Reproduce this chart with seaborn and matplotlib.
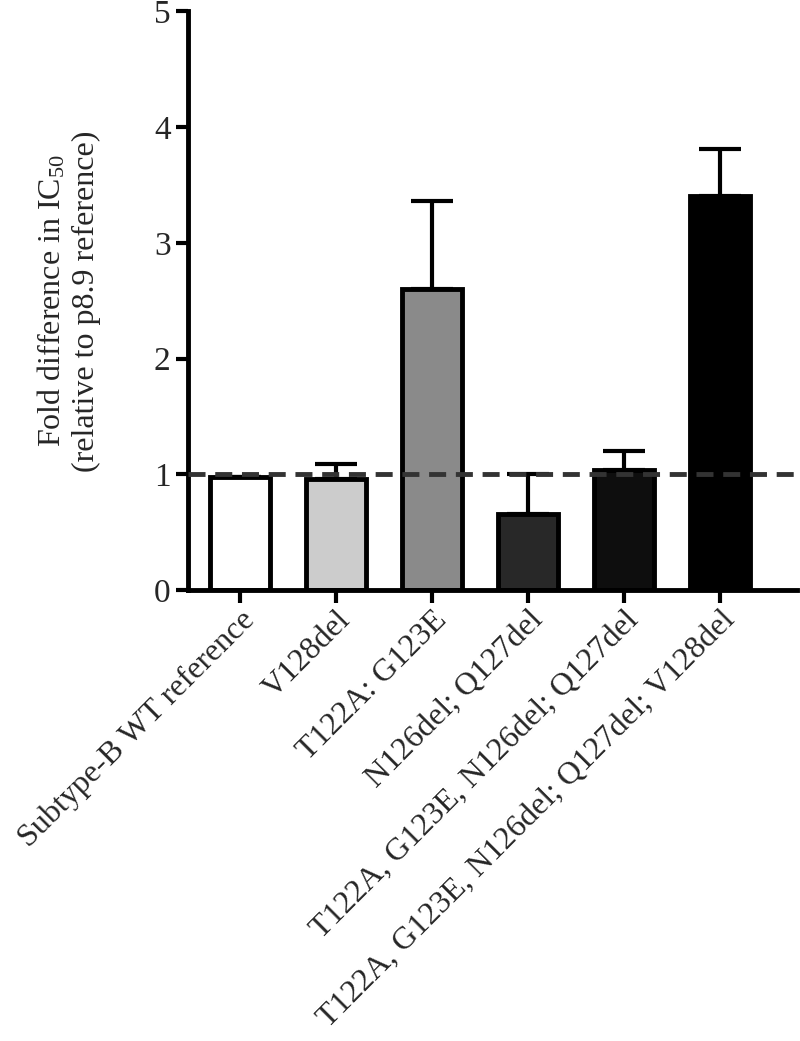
import numpy as np
import pandas as pd
import matplotlib
matplotlib.use('Agg')
import matplotlib.pyplot as plt
import seaborn as sns

# data
variants = [
    'Subtype-B WT reference',
    'V128del',
    'T122A: G123E',
    'N126del; Q127del',
    'T122A, G123E, N126del; Q127del',
    'T122A, G123E, N126del; Q127del; V128del',
]
fold_change = [0.98, 0.96, 2.60, 0.66, 1.04, 3.41]
err_upper = [0.0, 0.13, 0.76, 0.34, 0.16, 0.40]
bar_colors = ['#ffffff', '#cccccc', '#8a8a8a', '#282828', '#0e0e0e', '#000000']
y_ticks = [0, 1, 2, 3, 4, 5]

sns.set_theme(style='ticks')
plt.rcParams['font.family'] = ['Liberation Serif', 'DejaVu Serif']
plt.rcParams['mathtext.default'] = 'regular'

df = pd.DataFrame({'variant': variants, 'fold': fold_change})

fig = plt.figure(figsize=(8.0, 10.41), dpi=100)
ax = fig.add_axes([0.235, 0.433, 0.761, 0.556])

# error bars (upper only), drawn under the bars
ax.errorbar(np.arange(len(variants)), fold_change,
            yerr=[np.zeros(len(err_upper)), err_upper],
            fmt='none', ecolor='black', elinewidth=3, capsize=15,
            capthick=3, zorder=1)

sns.barplot(data=df, x='variant', y='fold', hue='variant',
            palette=bar_colors, legend=False, width=0.63,
            edgecolor='black', linewidth=3.5, saturation=1, ax=ax, zorder=2)

ax.axhline(1.0, color='#333333', linestyle=(0, (3.5, 2)), linewidth=3.5,
           zorder=3)

ax.set_xlim(-0.54, 5.8)
ax.set_ylim(0, 5)
ax.set_yticks(y_ticks)
ax.set_yticklabels([str(t) for t in y_ticks], fontsize=24)
ax.set_xticks(np.arange(len(variants)))
ax.set_xticklabels(variants, rotation=45, ha='right', va='top',
                   rotation_mode='anchor', fontsize=23)
ax.set_xlabel('')
ax.set_ylabel('Fold difference in IC$_{50}$\n(relative to p8.9 reference)',
              fontsize=23, labelpad=38)

for side in ['top', 'right']:
    ax.spines[side].set_visible(False)
for side in ['left', 'bottom']:
    ax.spines[side].set_linewidth(3.5)
    ax.spines[side].set_color('black')
ax.tick_params(axis='both', width=3, length=9, color='black')
ax.tick_params(axis='x', pad=2)

fig.savefig('out.png', dpi=100)
